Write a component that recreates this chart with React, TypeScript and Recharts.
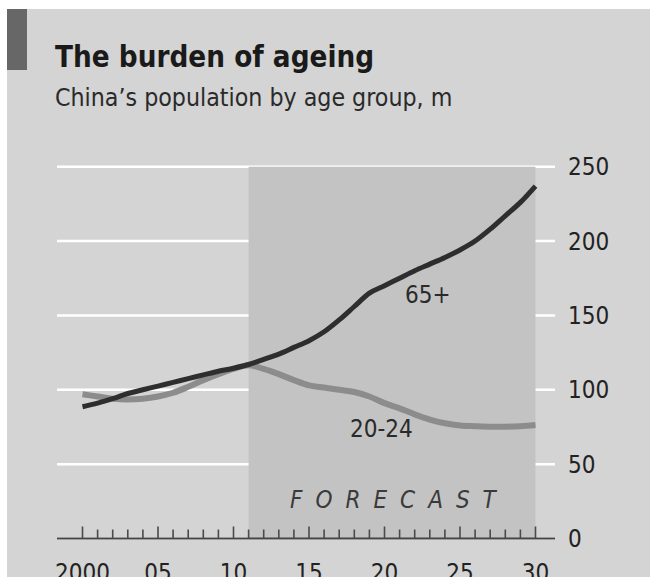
import React from 'react';
import {
  LineChart,
  Line,
  XAxis,
  YAxis,
  CartesianGrid,
  ReferenceArea,
} from 'recharts';

// China's population by age group, m
const years = [
  2000, 2001, 2002, 2003, 2004, 2005, 2006, 2007, 2008, 2009, 2010,
  2011, 2012, 2013, 2014, 2015, 2016, 2017, 2018, 2019, 2020,
  2021, 2022, 2023, 2024, 2025, 2026, 2027, 2028, 2029, 2030,
];
const over65 = [
  88.6, 91, 94, 97.5, 100, 102.5, 105, 107.5, 110, 112.5, 114.5,
  117, 120.5, 124, 128.5, 133, 139, 147, 156, 165, 170,
  175, 180, 184.5, 189, 194, 200, 208, 217, 226, 237,
];
const age20to24 = [
  97, 95.5, 94, 93.5, 94, 95.5, 98, 102, 106.5, 110.5, 114,
  116.5, 114, 110.5, 106.5, 103, 101.5, 100, 98.5, 95.5, 91,
  87.5, 83.5, 80, 77.5, 76, 75.5, 75.2, 75.2, 75.5, 76.3,
];
const yTicks = [0, 50, 100, 150, 200, 250];
const xTickLabels = ['2000', '05', '10', '15', '20', '25', '30'];
const forecastStart = 2011;
const forecastEnd = 2030;

const data = years.map((year, i) => ({
  year,
  over65: over65[i],
  age20to24: age20to24[i],
}));

const FONT = "'DejaVu Sans Condensed', 'DejaVu Sans', sans-serif";

const YearTick = (props: any) => {
  const { x, y, payload } = props;
  const yr = payload.value as number;
  const major = yr % 5 === 0;
  return (
    <g>
      <line x1={x} x2={x} y1={y} y2={y - (major ? 12 : 9)} stroke="#4a4a4a" strokeWidth={1.6} />
      {major && (
        <text x={x} y={y + 25} dy="0.71em" textAnchor="middle" fontSize={24} fill="#222" fontFamily={FONT}>
          {xTickLabels[(yr - 2000) / 5]}
        </text>
      )}
    </g>
  );
};

export default function App() {
  return (
    <div style={{ position: 'absolute', left: 0, top: 0, width: 650, height: 577, background: '#fff', overflow: 'hidden' }}>
      <div style={{ position: 'absolute', left: 7, top: 9, width: 643, height: 568, background: '#d4d4d4' }} />
      <div style={{ position: 'absolute', left: 7, top: 9, width: 20, height: 61, background: '#676767' }} />

      <div style={{ position: 'absolute', left: 0, top: 0 }}>
        <LineChart
          width={650}
          height={577}
          data={data}
          margin={{ top: 166.7, right: 0, bottom: 0, left: 57 }}
        >
          {/* forecast shading */}
          <ReferenceArea
            x1={forecastStart}
            x2={forecastEnd}
            y1={0}
            y2={250}
            fill="#c3c3c3"
            fillOpacity={1}
            stroke="none"
          />
          <CartesianGrid vertical={false} stroke="#ffffff" strokeWidth={2.5} />
          <XAxis
            dataKey="year"
            type="number"
            domain={[2000, 2030]}
            ticks={years}
            interval={0}
            padding={{ left: 25.5, right: 19.5 }}
            height={38.5}
            tickSize={0}
            tickMargin={0}
            tickLine={false}
            axisLine={{ stroke: '#444', strokeWidth: 2 }}
            tick={<YearTick />}
          />
          <YAxis
            orientation="right"
            domain={[0, 250]}
            ticks={yTicks}
            width={95}
            axisLine={false}
            tickLine={false}
            tickSize={6}
            tickMargin={7}
            tick={{ fontSize: 24, fill: '#222', fontFamily: FONT, textAnchor: 'start' }}
          />
          <Line
            type="monotone"
            dataKey="age20to24"
            stroke="#8c8c8c"
            strokeWidth={6}
            dot={false}
            isAnimationActive={false}
          />
          <Line
            type="monotone"
            dataKey="over65"
            stroke="#2e2e2e"
            strokeWidth={5}
            dot={false}
            isAnimationActive={false}
          />
        </LineChart>
      </div>

      <svg width={650} height={577} style={{ position: 'absolute', left: 0, top: 0, pointerEvents: 'none' }}>
        <text x={55} y={67} fontSize={29.3} fontWeight="bold" fill="#1a1a1a" fontFamily={FONT}>
          The burden of ageing
        </text>
        <text x={55} y={106} fontSize={24.7} fill="#2a2a2a" fontFamily={FONT}>
          China’s population by age group, m
        </text>
        <text x={405} y={303} fontSize={24} fill="#2a2a2a" fontFamily={FONT}>
          65+
        </text>
        <text x={350} y={437} fontSize={24} fill="#2a2a2a" fontFamily={FONT}>
          20-24
        </text>
        <text x={290} y={508} fontSize={24} fontStyle="italic" letterSpacing={13} fill="#3a3a3a" fontFamily={FONT}>
          FORECAST
        </text>
      </svg>
    </div>
  );
}
